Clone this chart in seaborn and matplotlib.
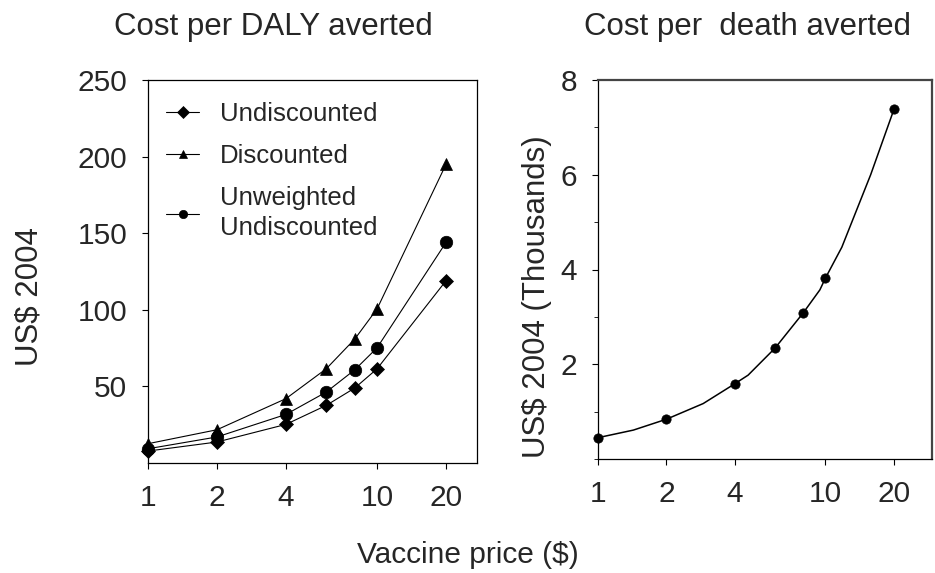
import numpy as np
import pandas as pd
import seaborn as sns
import matplotlib
matplotlib.use("Agg")
import matplotlib.pyplot as plt
from matplotlib.ticker import FixedLocator, FixedFormatter, NullLocator

# Vaccine prices (US$) evaluated
price = [1, 2, 4, 6, 8, 10, 20]

# Cost per DALY averted (US$ 2004)
undiscounted = [7.8, 13.7, 25.2, 37.6, 49.0, 61.5, 119.0]
discounted = [12.6, 21.7, 42.0, 61.5, 81.0, 100.6, 195.0]
unweighted_undiscounted = [9.3, 17.0, 31.7, 46.3, 60.9, 75.2, 144.0]

# Cost per death averted (US$ 2004, thousands) at the evaluated prices
death_cost = [0.45, 0.84, 1.59, 2.34, 3.09, 3.82, 7.38]
# Fitted curve through the death-averted estimates
curve_price = [1, 1.43, 2, 2.9, 4, 4.57, 6, 8, 9.45, 10, 11.8, 15.8, 20]
curve_cost = [0.45, 0.61, 0.84, 1.17, 1.59, 1.77, 2.34, 3.09, 3.57, 3.82, 4.47, 6.0, 7.38]

x_ticks = [1, 2, 4, 10, 20]
x_ticklabels = ["1", "2", "4", "10", "20"]
daly_ticks = [50, 100, 150, 200, 250]
death_ticks = [2, 4, 6, 8]

sns.set_style("ticks")
plt.rcParams["font.family"] = ["Liberation Sans", "DejaVu Sans"]

fig = plt.figure(figsize=(9.35, 5.73), dpi=100)
ax1 = fig.add_axes([148 / 935, 1 - 463 / 573, 329 / 935, 383 / 573])
ax2 = fig.add_axes([598 / 935, 1 - 459 / 573, 334 / 935, 379 / 573])

lw = 0.8
series = [
    ("Undiscounted", undiscounted, "D", 7),
    ("Discounted", discounted, "^", 8),
    ("Unweighted\nUndiscounted", unweighted_undiscounted, "o", 9),
]
for label, values, marker, ms in series:
    sns.lineplot(x=price, y=values, ax=ax1, color="black", linewidth=lw,
                 marker=marker, markersize=ms, markeredgecolor="black",
                 markeredgewidth=0.5, label=label, clip_on=False, zorder=3)

for ax in (ax1, ax2):
    ax.set_xscale("log")
    ax.xaxis.set_major_locator(FixedLocator(x_ticks))
    ax.xaxis.set_major_formatter(FixedFormatter(x_ticklabels))
    ax.xaxis.set_minor_locator(NullLocator())
    ax.tick_params(axis="both", which="major", labelsize=21.5, length=4,
                   width=0.8, color="black", direction="out")
    ax.tick_params(axis="x", pad=11)
    ax.tick_params(axis="y", pad=11)
    ax.set_xlabel("")
    ax.set_ylabel("")
    for sp in ax.spines.values():
        sp.set_color("black")
        sp.set_linewidth(0.9)

ax1.set_xlim(1, 27.3)
ax1.set_ylim(0, 250)
ax1.set_yticks(daly_ticks)

leg = ax1.legend(loc="upper left", bbox_to_anchor=(0.0, 0.99), frameon=False,
                 fontsize=18.5, handlelength=1.3, handletextpad=0.8,
                 labelspacing=0.7, borderaxespad=0.3)
for h in leg.legend_handles:
    h.set_markersize(6)
for t in leg.get_texts():
    t.set_linespacing(1.35)

# Cost per death averted
sns.lineplot(x=curve_price, y=curve_cost, ax=ax2, color="black",
             linewidth=1.1, sort=False, zorder=2)
sns.scatterplot(x=price, y=death_cost, ax=ax2, color="black", s=45,
                edgecolor="black", linewidth=0.5, clip_on=False, zorder=3)
ax2.set_xlim(1, 29.4)
ax2.set_ylim(0, 8)
ax2.set_yticks(death_ticks)
ax2.yaxis.set_minor_locator(FixedLocator([0, 1, 3, 5, 7]))
ax2.tick_params(axis="y", which="minor", length=3, width=0.6, color="black")
for side in ("top", "right"):
    ax2.spines[side].set_color("#444444")
    ax2.spines[side].set_linewidth(1.6)

fig.text(273 / 935, 1 - 27 / 573, "Cost per DALY averted", fontsize=22.5,
         ha="center", va="center")
fig.text(748 / 935, 1 - 27 / 573, "Cost per  death averted", fontsize=22.5,
         ha="center", va="center")
fig.text(29 / 935, 1 - 297 / 573, "US$ 2004", fontsize=22.5, rotation=90,
         ha="center", va="center")
fig.text(537 / 935, 1 - 297 / 573, "US$ 2004 (Thousands)", fontsize=22.5,
         rotation=90, ha="center", va="center")
fig.text(468 / 935, 1 - 555 / 573, "Vaccine price ($)", fontsize=21.5,
         ha="center", va="center")

fig.savefig("out.png", dpi=100, facecolor="white")
